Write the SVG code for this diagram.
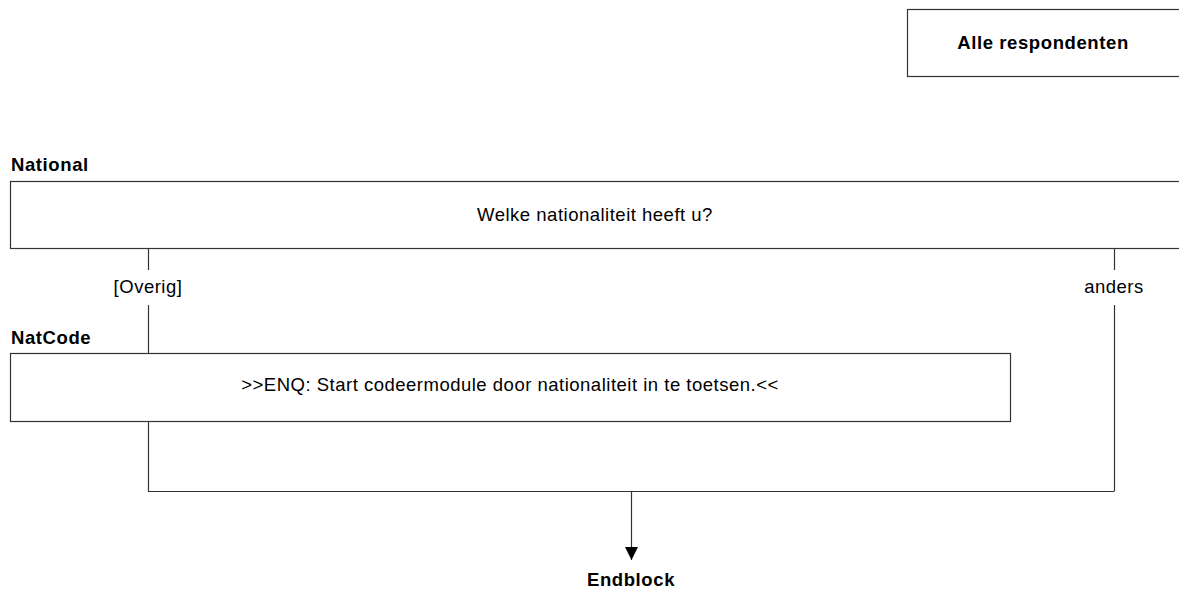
<svg xmlns="http://www.w3.org/2000/svg" width="1179" height="595" viewBox="0 0 1179 595">
<style>
.box{fill:#fff;stroke:#333;stroke-width:1.2}
.t{font-family:"Liberation Sans",Arial,sans-serif;font-size:18.5px;letter-spacing:0.5px;fill:#000}
.b{font-family:"Liberation Sans",Arial,sans-serif;font-size:18.5px;letter-spacing:0.6px;font-weight:bold;fill:#000}
.c{text-anchor:middle}
.ln{fill:none;stroke:#333;stroke-width:1.2}
</style>
<defs>
<marker id="ah" markerWidth="14" markerHeight="14" refX="13" refY="7" orient="auto" markerUnits="userSpaceOnUse" viewBox="0 0 14 14">
<path d="M0,0.5 L13,7 L0,13.5 Z" fill="#000"/>
</marker>
</defs>
<rect width="1179" height="595" fill="#fff"/>
<g id="alle">
<rect class="box" x="907.5" y="9.5" width="290" height="67"/>
<text class="b c" x="1043" y="49">Alle respondenten</text>
</g>
<g id="national">
<text class="b" x="11" y="171">National</text>
<rect class="box" x="10.5" y="181.5" width="1190" height="67"/>
<text class="t c" x="595" y="221">Welke nationaliteit heeft u?</text>
</g>
<g id="natcode">
<text class="b" x="11" y="344">NatCode</text>
<rect class="box" x="10.5" y="353.5" width="1000" height="68"/>
<text class="t c" x="510" y="391">&gt;&gt;ENQ: Start codeermodule door nationaliteit in te toetsen.&lt;&lt;</text>
</g>
<g id="endblock">
<text class="b c" x="631" y="586">Endblock</text>
</g>
<g id="connectors">
<path class="ln" d="M148.5,249 V270 M148.5,305 V353"/>
<text class="t c" x="148" y="293">[Overig]</text>
<path class="ln" d="M1114.5,249 V270 M1114.5,305 V491"/>
<text class="t c" x="1114" y="293">anders</text>
<path class="ln" d="M148.5,422 V491.5 H1114.5"/>
<path class="ln" d="M631.5,491.5 V560" marker-end="url(#ah)"/>
</g>
</svg>
